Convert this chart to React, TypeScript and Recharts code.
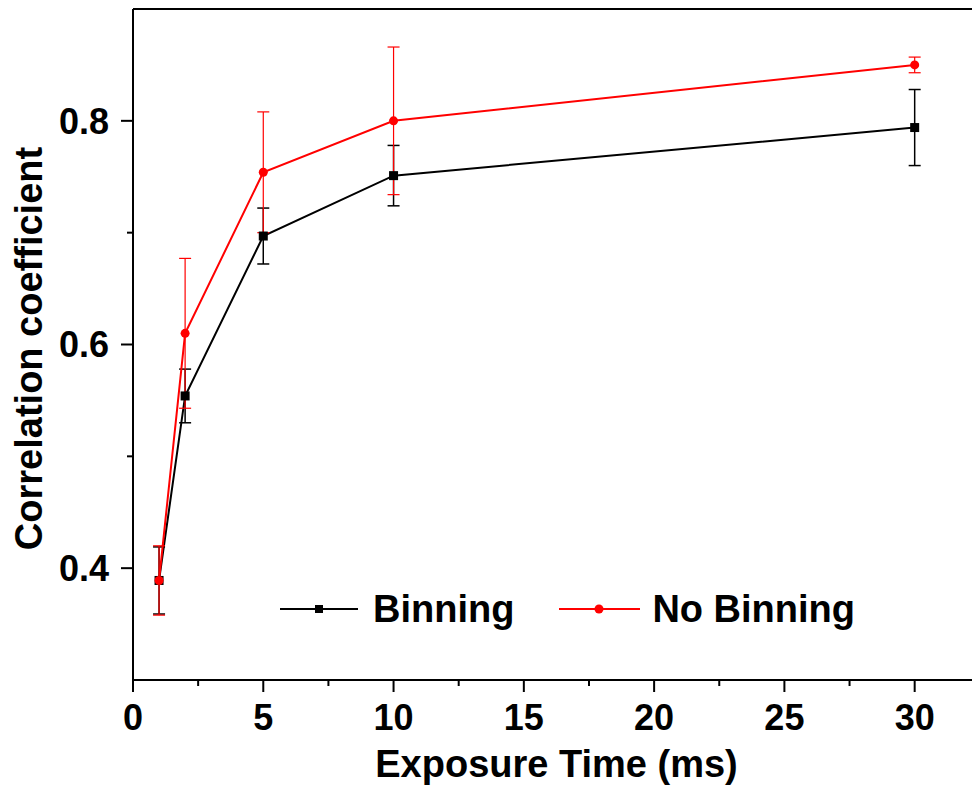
import React from 'react';
import { LineChart, Line, XAxis, YAxis, ErrorBar, Legend, ReferenceLine } from 'recharts';

const exposure = [1, 2, 5, 10, 30];
const binning = [0.389, 0.554, 0.697, 0.751, 0.794];
const binningErr = [0.03, 0.024, 0.025, 0.027, 0.034];
const noBinning = [0.389, 0.61, 0.754, 0.8, 0.85];
const noBinningErr = [0.031, 0.067, 0.054, 0.066, 0.007];

const xTicks = [0, 2.5, 5, 7.5, 10, 12.5, 15, 17.5, 20, 22.5, 25, 27.5, 30];
const yTicks = [0.4, 0.5, 0.6, 0.7, 0.8];

const data = exposure.map((x, i) => ({
  x,
  bin: binning[i],
  binErr: binningErr[i],
  nobin: noBinning[i],
  nobinErr: noBinningErr[i],
}));

const FONT = '"Liberation Sans", Arial, sans-serif';

const XTick = (props: any) => {
  const { x, y, payload } = props;
  const major = payload.value % 5 === 0;
  return (
    <g>
      <line x1={x} y1={y} x2={x} y2={y + (major ? 12 : 6)} stroke="#000" strokeWidth={2} />
      {major && (
        <text x={x} y={y + 24} dy="0.72em" textAnchor="middle" fontFamily={FONT} fontWeight="bold" fontSize={36} fill="#000">
          {payload.value}
        </text>
      )}
    </g>
  );
};

const YTick = (props: any) => {
  const { x, y, payload } = props;
  const major = Math.round(payload.value * 10) % 2 === 0;
  return (
    <g>
      <line x1={x} y1={y} x2={x - (major ? 12 : 6)} y2={y} stroke="#000" strokeWidth={2} />
      {major && (
        <text x={x - 24} y={y} dy="0.36em" textAnchor="end" fontFamily={FONT} fontWeight="bold" fontSize={36} fill="#000">
          {payload.value.toFixed(1)}
        </text>
      )}
    </g>
  );
};

const XTitle = (props: any) => {
  const { viewBox } = props;
  return (
    <text x={viewBox.x + viewBox.width / 2 + 4} y={777} textAnchor="middle" fontFamily={FONT} fontWeight="bold" fontSize={38} fill="#000">
      Exposure Time (ms)
    </text>
  );
};

const YTitle = (props: any) => {
  const { viewBox } = props;
  const cy = viewBox.y + viewBox.height / 2 + 4;
  return (
    <text x={42} y={cy} transform={`rotate(-90, 42, ${cy})`} textAnchor="middle" fontFamily={FONT} fontWeight="bold" fontSize={38} fill="#000">
      Correlation coefficient
    </text>
  );
};

const SquareDot = (props: any) => {
  const { cx, cy, index } = props;
  return <rect key={`sq-${index}`} x={cx - 4.5} y={cy - 4.5} width={9} height={9} fill="#000" />;
};

const LegendBox = () => (
  <div style={{ display: 'flex', alignItems: 'center', fontFamily: FONT, fontWeight: 'bold', fontSize: 38, lineHeight: '40px', color: '#000' }}>
    <svg width={78} height={20}>
      <line x1={0} y1={10} x2={78} y2={10} stroke="#000" strokeWidth={2} />
      <rect x={35} y={6} width={8} height={8} fill="#000" />
    </svg>
    <span style={{ marginLeft: 15 }}>Binning</span>
    <svg width={81} height={20} style={{ marginLeft: 45 }}>
      <line x1={0} y1={10} x2={81} y2={10} stroke="#ff0000" strokeWidth={2} />
      <circle cx={40} cy={10} r={4.5} fill="#ff0000" />
    </svg>
    <span style={{ marginLeft: 12 }}>No Binning</span>
  </div>
);

export default function App() {
  return (
    <div style={{ position: 'absolute', left: 0, top: 0, width: 972, height: 794, background: '#fff' }}>
      <LineChart width={972} height={794} data={data} margin={{ top: 9, right: 0, left: 0, bottom: 0 }}>
        <XAxis
          type="number"
          dataKey="x"
          domain={[0, 32.2]}
          ticks={xTicks}
          interval={0}
          height={114}
          tickSize={0}
          tickMargin={0}
          tickLine={false}
          tick={<XTick />}
          axisLine={{ stroke: '#000', strokeWidth: 2 }}
          label={<XTitle />}
        />
        <YAxis
          type="number"
          domain={[0.3, 0.9]}
          ticks={yTicks}
          interval={0}
          width={133}
          tickSize={0}
          tickMargin={0}
          tickLine={false}
          tick={<YTick />}
          axisLine={{ stroke: '#000', strokeWidth: 2 }}
          label={<YTitle />}
        />
        <ReferenceLine y={0.9} stroke="#000" strokeWidth={2} />
        <Line
          dataKey="bin"
          stroke="#000"
          strokeWidth={2}
          dot={SquareDot}
          activeDot={false}
          isAnimationActive={false}
        >
          <ErrorBar dataKey="binErr" width={6} stroke="#000" strokeWidth={1.5} isAnimationActive={false} />
        </Line>
        <Line
          dataKey="nobin"
          stroke="#ff0000"
          strokeWidth={2}
          dot={{ r: 4.5, fill: '#ff0000', stroke: 'none' }}
          activeDot={false}
          isAnimationActive={false}
        >
          <ErrorBar dataKey="nobinErr" width={6} stroke="#ff0000" strokeWidth={1.2} isAnimationActive={false} />
        </Line>
        <Legend
          layout="horizontal"
          verticalAlign="middle"
          align="center"
          content={<LegendBox />}
          wrapperStyle={{ left: 280, top: 589, width: 'auto', bottom: 'auto' }}
        />
      </LineChart>
    </div>
  );
}
